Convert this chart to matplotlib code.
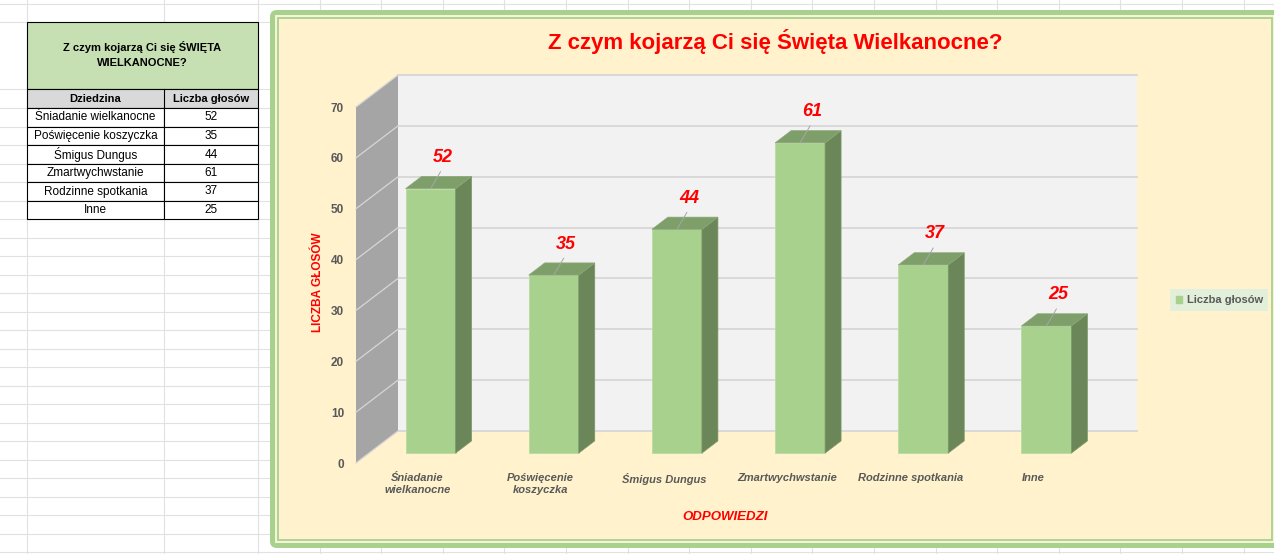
import matplotlib.pyplot as plt
import matplotlib.patches as mpatches
import numpy as np

kategorie = ["Śniadanie wielkanocne", "Poświęcenie koszyczka", "Śmigus Dungus",
             "Zmartwychwstanie", "Rodzinne spotkania", "Inne"]
etykiety_osi = ["Śniadanie\nwielkanocne", "Poświęcenie\nkoszyczka", "Śmigus Dungus",
                "Zmartwychwstanie", "Rodzinne spotkania", "Inne"]
glosy = [52, 35, 44, 61, 37, 25]
podzialka = [0, 10, 20, 30, 40, 50, 60, 70]

plt.rcParams['font.family'] = ['Liberation Sans', 'DejaVu Sans']

W, H = 1274, 554
fig = plt.figure(figsize=(W / 100, H / 100), dpi=100)
fig.patch.set_facecolor('white')

# tlo w pikselach: siatka arkusza, tabela, ramka wykresu
bg = fig.add_axes([0, 0, 1, 1])
bg.set_xlim(0, W)
bg.set_ylim(H, 0)
bg.axis('off')

kolumny = [27, 164, 258] + [258 + 61.6 * k for k in range(1, 18)]
wiersze = [3.5, 22, 89] + [108 + 18.5 * k for k in range(0, 25)]
for x in kolumny:
    bg.plot([x, x], [0, H], color='#e1e1e1', lw=0.8, zorder=0.5)
for y in wiersze:
    bg.plot([0, W], [y, y], color='#e1e1e1', lw=0.8, zorder=0.5)

# tabela
bg.add_patch(mpatches.Rectangle((27, 22), 231, 67, fc='#c6e0b4', ec='black', lw=0.8, zorder=2))
bg.add_patch(mpatches.Rectangle((27, 89), 231, 19, fc='#d9d9d9', ec='black', lw=0.8, zorder=2))
bg.text(142.5, 54.5, "Z czym kojarzą Ci się ŚWIĘTA\nWIELKANOCNE?", ha='center', va='center',
        fontsize=8, fontweight='bold', linespacing=1.6, zorder=3)
bg.text(95.5, 98.5, "Dziedzina", ha='center', va='center', fontsize=8, fontweight='bold', zorder=3)
bg.text(211, 98.5, "Liczba głosów", ha='center', va='center', fontsize=8, fontweight='bold', zorder=3)
bg.plot([164, 164], [89, 108], color='black', lw=0.8, zorder=2.5)
for i, (k, v) in enumerate(zip(kategorie, glosy)):
    y0 = 108 + 18.5 * i
    bg.add_patch(mpatches.Rectangle((27, y0), 137, 18.5, fc='white', ec='black', lw=0.8, zorder=2))
    bg.add_patch(mpatches.Rectangle((164, y0), 94, 18.5, fc='white', ec='black', lw=0.8, zorder=2))
    bg.text(95.5, y0 + 9.5, k, ha='center', va='center', fontsize=8.5, zorder=3)
    bg.text(211, y0 + 9.5, str(v), ha='center', va='center', fontsize=8.5, zorder=3)

# ramka wykresu
bg.add_patch(mpatches.FancyBboxPatch((270, 10), 1012, 538, boxstyle='round,pad=0,rounding_size=7',
                                     fc='#a9d18e', ec='none', zorder=4))
bg.add_patch(mpatches.Rectangle((275, 15), 1002, 528, fc='#f7f3d6', ec='none', zorder=4))
bg.add_patch(mpatches.Rectangle((278, 17.5), 994, 522, fc='#fff2cc', ec='#a9d18e', lw=1.3, zorder=4))

fig.text(775 / W, 1 - 41 / H, "Z czym kojarzą Ci się Święta Wielkanocne?", ha='center', va='center',
         fontsize=16, fontweight='bold', color='red')

# wykres 3D (rzut ukosny) - os przednia
L, R, B, T = 356, 1095, 463, 107
ax = fig.add_axes([L / W, 1 - B / H, (R - L) / W, (B - T) / H])
ax.set_xlim(-0.5, 5.5)
ax.set_ylim(0, 70)
ax.patch.set_alpha(0)
for s in ax.spines.values():
    s.set_visible(False)

ux = (R - L) / 6.0
uy = (B - T) / 70.0
gx, gy = 42 / ux, 32 / uy          # pelna glebokosc w jednostkach danych
f0, f1 = 13 / 42, 29 / 42          # przod i tyl slupka
w = 50 / ux

# sciana tylna + siatka
ax.add_patch(mpatches.Rectangle((-0.5 + gx, gy), 6, 70, fc='#f2f2f2', ec='none', clip_on=False, zorder=1))
for t in podzialka:
    ax.plot([-0.5 + gx, 5.5 + gx], [t + gy, t + gy], color='#d9d9d9', lw=1.4, clip_on=False, zorder=1.5)
# sciana boczna
ax.add_patch(mpatches.Polygon([(-0.5, 0), (-0.5, 70), (-0.5 + gx, 70 + gy), (-0.5 + gx, gy)],
                              fc='#a5a5a5', ec='none', clip_on=False, zorder=2))
for t in podzialka:
    ax.plot([-0.5, -0.5 + gx], [t, t + gy], color='#d6d6d6', lw=0.9, clip_on=False, zorder=2.5)

xs = np.arange(len(glosy))
ax.bar(xs + f0 * gx, glosy, width=w, bottom=f0 * gy, color='#a9d18e', edgecolor='#b9dca2',
       lw=0.6, zorder=4, clip_on=False)
for x, v in zip(xs, glosy):
    xl, xr = x + f0 * gx - w / 2, x + f0 * gx + w / 2
    dx, dy = (f1 - f0) * gx, (f1 - f0) * gy
    yb, yt = f0 * gy, v + f0 * gy
    ax.add_patch(mpatches.Polygon([(xr, yb), (xr, yt), (xr + dx, yt + dy), (xr + dx, yb + dy)],
                                  fc='#6b8759', ec='#7a9868', lw=0.5, clip_on=False, zorder=4))
    ax.add_patch(mpatches.Polygon([(xl, yt), (xr, yt), (xr + dx, yt + dy), (xl + dx, yt + dy)],
                                  fc='#7f9f6a', ec='#8aa876', lw=0.5, clip_on=False, zorder=4))
    ax.annotate('', xy=(x + f0 * gx, yt), xytext=(10, 17), textcoords='offset pixels',
                arrowprops=dict(arrowstyle='-', color='#a6a6a6', lw=0.7, shrinkA=0, shrinkB=0), zorder=5)
    ax.annotate(str(v), xy=(x + f0 * gx, yt), xytext=(12, 31), textcoords='offset pixels',
                ha='center', va='center', fontsize=13, fontweight='bold', fontstyle='italic',
                color='red', zorder=6, annotation_clip=False)

ax.set_yticks(podzialka)
ax.set_xticks(xs)
ax.set_xticklabels(etykiety_osi, fontsize=8, fontweight='bold', fontstyle='italic', color='#595959',
                   linespacing=1.3)
ax.tick_params(axis='y', length=0, pad=8.6, labelsize=8.5, labelcolor='#595959')
ax.tick_params(axis='x', length=0, pad=7)
for lab in ax.get_yticklabels():
    lab.set_fontweight('bold')

ax.set_ylabel("LICZBA GŁOSÓW", color='red', fontsize=8.5, fontweight='bold', va='center')
ax.yaxis.set_label_coords((318 - L) / (R - L), (B - 282) / (B - T))
ax.set_xlabel("ODPOWIEDZI", color='red', fontsize=9.5, fontweight='bold', fontstyle='italic', va='center')
ax.xaxis.set_label_coords(0.5, (B - 517) / (B - T))

leg = ax.legend(handles=[mpatches.Patch(color='#a9d18e', label='Liczba głosów')], loc='center left',
                bbox_to_anchor=(1170 / W, 1 - 300 / H), bbox_transform=fig.transFigure,
                frameon=True, fancybox=False, facecolor='#e2efda', edgecolor='none', framealpha=1,
                prop={'size': 8, 'weight': 'bold'}, labelcolor='#595959', handlelength=0.6,
                handleheight=0.6, handletextpad=0.4, borderpad=0.5, borderaxespad=0)

fig.savefig('out.png', dpi=100)
